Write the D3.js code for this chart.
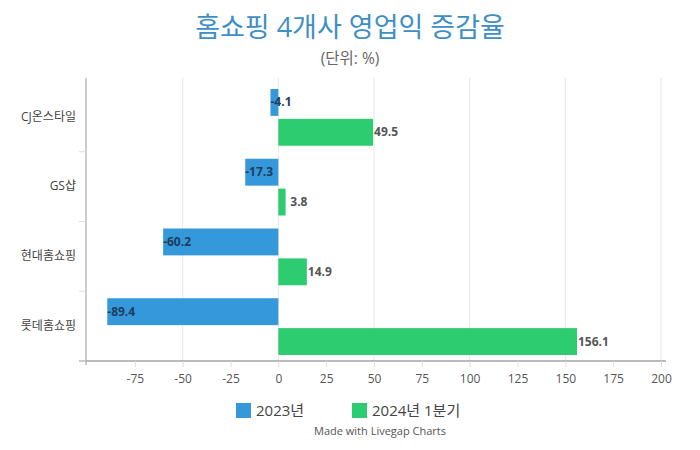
<!DOCTYPE html>
<html><head><meta charset="utf-8">
<script src="https://cdn.jsdelivr.net/npm/d3@7"></script>
<style>
body{margin:0;background:#fff;}
text{font-family:"Open Sans","Noto Sans CJK KR",sans-serif;}
</style></head>
<body>
<svg id="c" width="700" height="450"></svg>
<script>
const categories = ["CJ온스타일", "GS샵", "현대홈쇼핑", "롯데홈쇼핑"];
const seriesNames = ["2023년", "2024년 1분기"];
const values2023 = [-4.1, -17.3, -60.2, -89.4];
const values2024Q1 = [49.5, 3.8, 14.9, 156.1];
const xTicks = [-75, -50, -25, 0, 25, 50, 75, 100, 125, 150, 175, 200];
const gridTicks = [-50, 0, 50, 100, 150, 200];
const colors = ["#3498db", "#2ecc71"];

const svg = d3.select("#c");
const pL = 87, pR = 661, pT = 82, pB = 361;
const x = d3.scaleLinear().domain([-100, 200]).range([pL, pR]);
const y = d3.scaleBand().domain(categories).range([pT, pB]);
const inner = d3.scaleBand().domain([0, 1]).range([7, y.bandwidth() - 6]).paddingInner(0.1);

svg.append("text").attr("x", 350).attr("y", 37).attr("text-anchor", "middle")
  .attr("font-size", 27).attr("fill", "#3d8fc6").text("홈쇼핑 4개사 영업익 증감율");
svg.append("text").attr("x", 350).attr("y", 64).attr("text-anchor", "middle")
  .attr("font-size", 15.5).attr("fill", "#666").text("(단위: %)");

// grid
svg.append("g").selectAll("line").data(gridTicks).join("line")
  .attr("x1", d => x(d)).attr("x2", d => x(d)).attr("y1", pT - 4).attr("y2", pB)
  .attr("stroke", "#e6e6e6").attr("stroke-width", 1);

// bars
const series = [values2023, values2024Q1];
series.forEach((vals, si) => {
  const g = svg.append("g");
  g.selectAll("rect").data(vals).join("rect")
    .attr("x", d => x(Math.min(0, d)))
    .attr("width", d => Math.abs(x(d) - x(0)))
    .attr("y", (d, i) => y(categories[i]) + inner(si))
    .attr("height", inner.bandwidth())
    .attr("fill", colors[si]);
  g.selectAll("text").data(vals).join("text")
    .attr("x", d => d < 0 ? x(d) : Math.max(x(d) + 1, x(0) + 12))
    .attr("y", (d, i) => y(categories[i]) + inner(si) + inner.bandwidth() / 2 + 4)
    .attr("font-size", 12).attr("font-weight", "bold")
    .attr("fill", d => d < 0 ? "#1d3e5e" : "#555")
    .text(d => d);
});

// x axis
const xa = svg.append("g").attr("transform", `translate(0,${pB})`)
  .call(d3.axisBottom(x).tickValues(xTicks).tickFormat(d => String(d)).tickSize(6).tickSizeOuter(0));
xa.select(".domain").attr("stroke", "#777").attr("d", `M${pL - 8},0H${pR + 5}`);
xa.selectAll(".tick line").attr("stroke", "#ddd");
xa.selectAll(".tick text").attr("fill", "#555").attr("font-size", 12).attr("dy", "1.05em");

// y axis
const ya = svg.append("g").attr("transform", `translate(${pL - 1},0)`)
  .call(d3.axisLeft(y).tickSize(0).tickPadding(10));
ya.select(".domain").attr("stroke", "#999").attr("d", `M0,${pT - 4}V${pB + 4}`);
ya.selectAll(".tick text").attr("fill", "#444").attr("font-size", 12);
const bounds = categories.map(c => y(c) + y.bandwidth());
svg.append("g").selectAll("line").data(bounds).join("line")
  .attr("x1", pL - 8).attr("x2", pL - 1).attr("y1", d => d).attr("y2", d => d)
  .attr("stroke", "#ddd");

// legend
const lg = svg.append("g");
const lx = [236, 352];
seriesNames.forEach((n, i) => {
  lg.append("rect").attr("x", lx[i]).attr("y", 403).attr("width", 15).attr("height", 15).attr("fill", colors[i]);
  lg.append("text").attr("x", lx[i] + 20).attr("y", 416).attr("font-size", 15).attr("fill", "#444").text(n);
});
svg.append("text").attr("x", 380).attr("y", 435).attr("text-anchor", "middle")
  .attr("font-size", 11).attr("fill", "#555").text("Made with Livegap Charts");
</script>
</body></html>
